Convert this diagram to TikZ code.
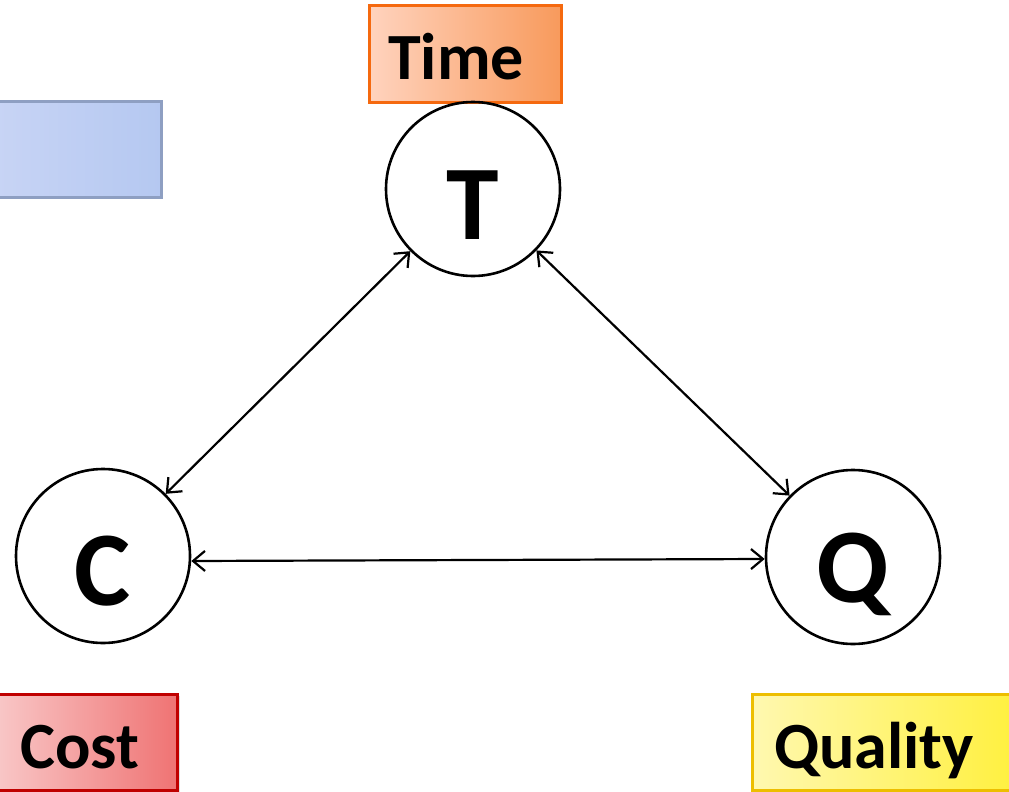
\documentclass[tikz,border=0pt]{standalone}
\usepackage{fontspec}
\setmainfont{Carlito}
\usetikzlibrary{arrows.meta,shadows}
\definecolor{timeL}{HTML}{FFD3BE}
\definecolor{timeR}{HTML}{F89A5C}
\definecolor{timeB}{HTML}{F5690F}
\definecolor{costL}{HTML}{F9CACA}
\definecolor{costR}{HTML}{EF7373}
\definecolor{costB}{HTML}{C00000}
\definecolor{qualL}{HTML}{FFF8B0}
\definecolor{qualR}{HTML}{FFF03C}
\definecolor{qualB}{HTML}{EDBE00}
\definecolor{blueL}{HTML}{C9D5F5}
\definecolor{blueR}{HTML}{B5C8F1}
\definecolor{blueB}{HTML}{8E9FC2}
\tikzset{
  tagbox/.style={draw, line width=3pt, rectangle, inner sep=0pt,
    drop shadow={shadow xshift=2pt, shadow yshift=-2pt, opacity=0.25}},
  taglbl/.style={font=\fontsize{66}{66}\selectfont\bfseries, inner sep=0pt},
  vertex/.style={draw, circle, line width=2.6pt, minimum size=174pt, inner sep=0pt,
    font=\fontsize{106}{106}\selectfont\bfseries},
  link/.style={line width=2.2pt, {Straight Barb[length=12pt,width=20pt]}-{Straight Barb[length=12pt,width=20pt]}}
}
\begin{document}
\begin{tikzpicture}[x=1pt,y=-1pt]
\useasboundingbox (0,0) rectangle (1009,792);
% coloured tag boxes
\node[tagbox, draw=blueB, left color=blueL, right color=blueR,
  minimum width=180pt, minimum height=96pt] (blank) at (71,149) {};
\node[tagbox, draw=timeB, left color=timeL, right color=timeR,
  minimum width=192pt, minimum height=96pt] (timebox) at (465,54) {};
\node[taglbl, anchor=base] (timelbl) at (456,80) {Time};
\node[tagbox, draw=costB, left color=costL, right color=costR,
  minimum width=187pt, minimum height=96pt] (costbox) at (84,742) {};
\node[taglbl, anchor=base] (costlbl) at (80,768) {Cost};
\node[tagbox, draw=qualB, left color=qualL, right color=qualR,
  minimum width=270pt, minimum height=96pt] (qualbox) at (887,742) {};
\node[taglbl, anchor=base] (quallbl) at (874,768) {Quality};
% the three constraint circles; letters sit a little below the centre
\node[vertex] (T) at (473,189) {\raisebox{-50pt}[0pt][0pt]{T}};
\node[vertex] (C) at (103,556) {\raisebox{-49pt}[0pt][0pt]{C}};
\node[vertex] (Q) at (853,557) {\raisebox{-45pt}[0pt][0pt]{Q}};
% trade-off links
\draw[link] (T) -- (C);
\draw[link] (T) -- (Q);
\draw[link] ([yshift=-5pt]C.east) -- ([yshift=-2pt]Q.west);
\end{tikzpicture}
\end{document}
